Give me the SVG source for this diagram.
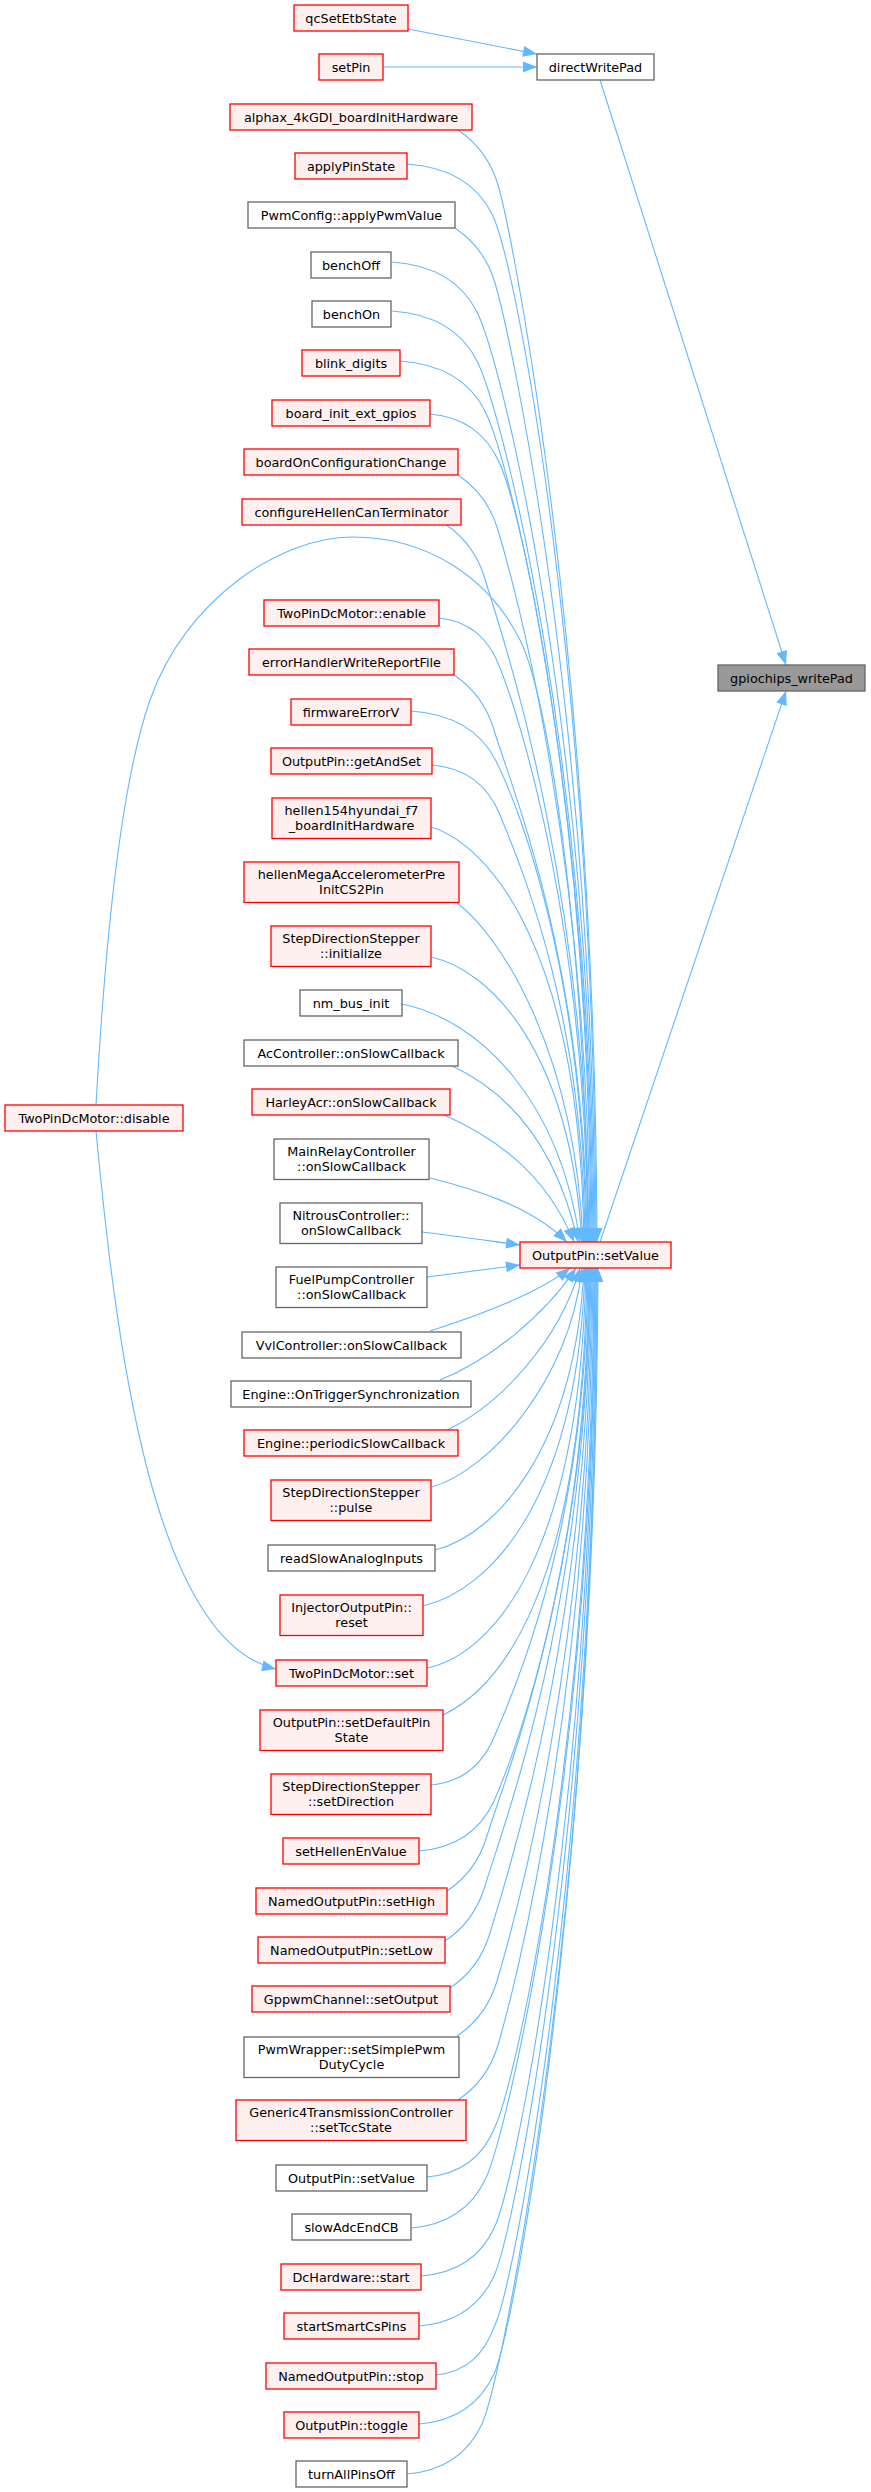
<svg xmlns="http://www.w3.org/2000/svg" width="871" height="2492" viewBox="0 0 871 2492">
<style>
.r{fill:#fff0f0;stroke:#ff0000;stroke-width:1.3}
.g{fill:#ffffff;stroke:#666666;stroke-width:1.3}
.root{fill:#999999;stroke:#666666;stroke-width:1.3}
text{font-family:"DejaVu Sans","Liberation Sans",sans-serif;font-size:12.8px;fill:#000;text-anchor:middle}
.e path{fill:none;stroke:#63b8ff;stroke-width:1.1;marker-end:url(#ah)}
</style>
<defs>
<marker id="ah" markerWidth="14" markerHeight="11" refX="14" refY="5.5" orient="auto" markerUnits="userSpaceOnUse" overflow="visible">
<path d="M0,0 L14,5.5 L0,11 Z" fill="#63b8ff"/>
</marker>
</defs>
<rect width="871" height="2492" fill="#ffffff"/>
<g id="edges" class="e">
<path d="M408,29 L537,54"/>
<path d="M383,67 L537,67"/>
<path d="M600,80 L786,665"/>
<path d="M600,1242 L786,691"/>
<path d="M96,1131 C115,1330 150,1640 276,1669"/>
<path d="M458,130 C476,142 490,158 498,185 C514,239 595,661 597,1242"/>
<path d="M407,164 C449,167 477,184 492,214 C517,264 594,677 596,1242"/>
<path d="M455,228 C473,240 487,256 495,283 C511,337 593,715 595,1242"/>
<path d="M392,262 C434,265 462,282 477,312 C502,362 592,730 594,1242"/>
<path d="M392,311 C434,314 462,331 477,361 C502,411 591,757 593,1242"/>
<path d="M400,361 C442,364 470,381 485,411 C510,461 590,785 592,1242"/>
<path d="M430,414 C465,417 487,434 500,464 C522,514 589,814 591,1242"/>
<path d="M458,475 C476,487 490,503 498,530 C514,584 588,850 590,1242"/>
<path d="M445,524 C463,536 477,552 485,579 C501,633 587,877 589,1242"/>
<path d="M96,1105 C102,1000 115,800 150,700 C185,600 280,537 352,537 C430,537 490,580 520,640 C550,700 586,950 588,1242"/>
<path d="M439,618 C470,621 489,638 500,668 C520,718 586,926 588,1242"/>
<path d="M454,675 C472,687 486,703 494,730 C510,784 585,960 587,1242"/>
<path d="M411,711 C453,714 481,731 496,761 C521,811 584,977 586,1242"/>
<path d="M432,765 C466,768 488,785 500,815 C520,865 583,1007 585,1242"/>
<path d="M431,827 C490,845 580,950 584,1242"/>
<path d="M457,903 C500,935 575,1050 583,1242"/>
<path d="M431,957 C490,970 570,1050 582,1242"/>
<path d="M402,1004 C480,1020 560,1100 580,1242"/>
<path d="M450,1065 C505,1090 555,1140 578,1242"/>
<path d="M442,1114 C490,1135 545,1170 574,1242"/>
<path d="M430,1178 C470,1188 530,1205 567,1242"/>
<path d="M422,1232 C455,1236 490,1241 520,1245"/>
<path d="M427,1277 C460,1273 490,1269 520,1265"/>
<path d="M430,1331 C480,1315 540,1292 570,1268"/>
<path d="M440,1380 C490,1360 545,1315 576,1268"/>
<path d="M447,1430 C500,1405 560,1340 580,1268"/>
<path d="M432,1487 C490,1470 570,1380 582,1268"/>
<path d="M435,1550 C495,1535 575,1450 584,1268"/>
<path d="M423,1606 C490,1590 578,1500 585,1268"/>
<path d="M427,1668 C490,1655 580,1560 586,1268"/>
<path d="M443,1715 C495,1690 583,1600 587,1268"/>
<path d="M431,1785 C463,1782 483,1765 495,1735 C517,1685 586,1525 588,1268"/>
<path d="M419,1851 C456,1848 480,1831 494,1801 C516,1751 587,1561 589,1268"/>
<path d="M447,1891 C465,1879 479,1863 487,1836 C503,1782 588,1580 590,1268"/>
<path d="M445,1941 C463,1929 477,1913 485,1886 C501,1832 588,1608 590,1268"/>
<path d="M450,1988 C468,1976 482,1960 490,1933 C506,1879 589,1634 591,1268"/>
<path d="M457,2036 C475,2024 489,2008 497,1981 C513,1927 590,1660 592,1268"/>
<path d="M458,2100 C476,2088 490,2072 498,2045 C514,1991 591,1695 593,1268"/>
<path d="M427,2177 C461,2174 483,2157 495,2127 C517,2077 592,1740 594,1268"/>
<path d="M411,2228 C448,2225 472,2208 486,2178 C508,2128 593,1768 595,1268"/>
<path d="M421,2276 C458,2273 482,2256 495,2226 C517,2176 593,1795 595,1268"/>
<path d="M419,2326 C456,2323 480,2306 494,2276 C516,2226 594,1822 596,1268"/>
<path d="M436,2375 C466,2372 484,2355 495,2325 C517,2275 595,1849 597,1268"/>
<path d="M419,2424 C456,2421 480,2404 494,2374 C516,2324 595,1876 597,1268"/>
<path d="M407,2474 C444,2471 468,2454 482,2424 C504,2374 596,1904 598,1268"/>
</g>
<g id="gpiochips_writePad"><rect class="root" x="718" y="665" width="147" height="26"/><text x="791.5" y="682.5">gpiochips_writePad</text></g>
<g id="directWritePad"><rect class="g" x="537" y="54" width="117" height="26"/><text x="595.5" y="71.5">directWritePad</text></g>
<g id="OutputPin_setValue_mid"><rect class="r" x="520" y="1242" width="151" height="26"/><text x="595.5" y="1259.5">OutputPin::setValue</text></g>
<g id="TwoPinDcMotor_disable"><rect class="r" x="5" y="1105" width="178" height="26"/><text x="94" y="1122.5">TwoPinDcMotor::disable</text></g>
<g id="qcSetEtbState"><rect class="r" x="294" y="5" width="114" height="26"/><text x="351" y="22.5">qcSetEtbState</text></g>
<g id="setPin"><rect class="r" x="319" y="54" width="64" height="26"/><text x="351" y="71.5">setPin</text></g>
<g id="alphax_4kGDI_boardInitHardware"><rect class="r" x="230" y="104" width="242" height="26"/><text x="351" y="121.5">alphax_4kGDI_boardInitHardware</text></g>
<g id="applyPinState"><rect class="r" x="295" y="153" width="112" height="26"/><text x="351" y="170.5">applyPinState</text></g>
<g id="PwmConfig_applyPwmValue"><rect class="g" x="248" y="202" width="207" height="26"/><text x="351.5" y="219.5">PwmConfig::applyPwmValue</text></g>
<g id="benchOff"><rect class="g" x="311" y="252" width="80" height="26"/><text x="351" y="269.5">benchOff</text></g>
<g id="benchOn"><rect class="g" x="312" y="301" width="79" height="26"/><text x="351.5" y="318.5">benchOn</text></g>
<g id="blink_digits"><rect class="r" x="302" y="350" width="98" height="26"/><text x="351" y="367.5">blink_digits</text></g>
<g id="board_init_ext_gpios"><rect class="r" x="272" y="400" width="158" height="26"/><text x="351" y="417.5">board_init_ext_gpios</text></g>
<g id="boardOnConfigurationChange"><rect class="r" x="244" y="449" width="214" height="26"/><text x="351" y="466.5">boardOnConfigurationChange</text></g>
<g id="configureHellenCanTerminator"><rect class="r" x="242" y="499" width="219" height="26"/><text x="351.5" y="516.5">configureHellenCanTerminator</text></g>
<g id="TwoPinDcMotor_enable"><rect class="r" x="264" y="600" width="175" height="26"/><text x="351.5" y="617.5">TwoPinDcMotor::enable</text></g>
<g id="errorHandlerWriteReportFile"><rect class="r" x="249" y="649" width="205" height="26"/><text x="351.5" y="666.5">errorHandlerWriteReportFile</text></g>
<g id="firmwareErrorV"><rect class="r" x="291" y="699" width="120" height="26"/><text x="351" y="716.5">firmwareErrorV</text></g>
<g id="OutputPin_getAndSet"><rect class="r" x="271" y="748" width="161" height="26"/><text x="351.5" y="765.5">OutputPin::getAndSet</text></g>
<g id="hellen154hyundai_f7_boardInitHardware"><rect class="r" x="272" y="798" width="159" height="40.5"/><text x="351.5" y="815">hellen154hyundai_f7</text><text x="351.5" y="830">_boardInitHardware</text></g>
<g id="hellenMegaAccelerometerPreInitCS2Pin"><rect class="r" x="244" y="862" width="215" height="40.5"/><text x="351.5" y="879">hellenMegaAccelerometerPre</text><text x="351.5" y="894">InitCS2Pin</text></g>
<g id="StepDirectionStepper_initialize"><rect class="r" x="271" y="926" width="160" height="40.5"/><text x="351" y="943">StepDirectionStepper</text><text x="351" y="958">::initialize</text></g>
<g id="nm_bus_init"><rect class="g" x="300" y="990" width="102" height="26"/><text x="351" y="1007.5">nm_bus_init</text></g>
<g id="AcController_onSlowCallback"><rect class="g" x="244" y="1040" width="214" height="26"/><text x="351" y="1057.5">AcController::onSlowCallback</text></g>
<g id="HarleyAcr_onSlowCallback"><rect class="r" x="252" y="1089" width="198" height="26"/><text x="351" y="1106.5">HarleyAcr::onSlowCallback</text></g>
<g id="MainRelayController_onSlowCallback"><rect class="g" x="274" y="1139" width="155" height="40.5"/><text x="351.5" y="1156">MainRelayController</text><text x="351.5" y="1171">::onSlowCallback</text></g>
<g id="NitrousController_onSlowCallback"><rect class="g" x="280" y="1203" width="142" height="40.5"/><text x="351" y="1220">NitrousController::</text><text x="351" y="1235">onSlowCallback</text></g>
<g id="FuelPumpController_onSlowCallback"><rect class="g" x="276" y="1267" width="151" height="40.5"/><text x="351.5" y="1284">FuelPumpController</text><text x="351.5" y="1299">::onSlowCallback</text></g>
<g id="VvlController_onSlowCallback"><rect class="g" x="242" y="1332" width="219" height="26"/><text x="351.5" y="1349.5">VvlController::onSlowCallback</text></g>
<g id="Engine_OnTriggerSynchronization"><rect class="g" x="231" y="1381" width="240" height="26"/><text x="351" y="1398.5">Engine::OnTriggerSynchronization</text></g>
<g id="Engine_periodicSlowCallback"><rect class="r" x="244" y="1430" width="214" height="26"/><text x="351" y="1447.5">Engine::periodicSlowCallback</text></g>
<g id="StepDirectionStepper_pulse"><rect class="r" x="271" y="1480" width="160" height="40.5"/><text x="351" y="1497">StepDirectionStepper</text><text x="351" y="1512">::pulse</text></g>
<g id="readSlowAnalogInputs"><rect class="g" x="268" y="1545" width="167" height="26"/><text x="351.5" y="1562.5">readSlowAnalogInputs</text></g>
<g id="InjectorOutputPin_reset"><rect class="r" x="280" y="1595" width="143" height="40.5"/><text x="351.5" y="1612">InjectorOutputPin::</text><text x="351.5" y="1627">reset</text></g>
<g id="TwoPinDcMotor_set"><rect class="r" x="276" y="1660" width="151" height="26"/><text x="351.5" y="1677.5">TwoPinDcMotor::set</text></g>
<g id="OutputPin_setDefaultPinState"><rect class="r" x="260" y="1710" width="183" height="40.5"/><text x="351.5" y="1727">OutputPin::setDefaultPin</text><text x="351.5" y="1742">State</text></g>
<g id="StepDirectionStepper_setDirection"><rect class="r" x="271" y="1774" width="160" height="40.5"/><text x="351" y="1791">StepDirectionStepper</text><text x="351" y="1806">::setDirection</text></g>
<g id="setHellenEnValue"><rect class="r" x="283" y="1838" width="136" height="26"/><text x="351" y="1855.5">setHellenEnValue</text></g>
<g id="NamedOutputPin_setHigh"><rect class="r" x="256" y="1888" width="191" height="26"/><text x="351.5" y="1905.5">NamedOutputPin::setHigh</text></g>
<g id="NamedOutputPin_setLow"><rect class="r" x="258" y="1937" width="187" height="26"/><text x="351.5" y="1954.5">NamedOutputPin::setLow</text></g>
<g id="GppwmChannel_setOutput"><rect class="r" x="252" y="1986" width="198" height="26"/><text x="351" y="2003.5">GppwmChannel::setOutput</text></g>
<g id="PwmWrapper_setSimplePwmDutyCycle"><rect class="g" x="244" y="2037" width="215" height="40.5"/><text x="351.5" y="2054">PwmWrapper::setSimplePwm</text><text x="351.5" y="2069">DutyCycle</text></g>
<g id="Generic4TransmissionController_setTccState"><rect class="r" x="236" y="2100" width="230" height="40.5"/><text x="351" y="2117">Generic4TransmissionController</text><text x="351" y="2132">::setTccState</text></g>
<g id="OutputPin_setValue_left"><rect class="g" x="276" y="2165" width="151" height="26"/><text x="351.5" y="2182.5">OutputPin::setValue</text></g>
<g id="slowAdcEndCB"><rect class="g" x="292" y="2214" width="119" height="26"/><text x="351.5" y="2231.5">slowAdcEndCB</text></g>
<g id="DcHardware_start"><rect class="r" x="281" y="2264" width="140" height="26"/><text x="351" y="2281.5">DcHardware::start</text></g>
<g id="startSmartCsPins"><rect class="r" x="284" y="2313" width="135" height="26"/><text x="351.5" y="2330.5">startSmartCsPins</text></g>
<g id="NamedOutputPin_stop"><rect class="r" x="266" y="2363" width="170" height="26"/><text x="351" y="2380.5">NamedOutputPin::stop</text></g>
<g id="OutputPin_toggle"><rect class="r" x="284" y="2412" width="135" height="26"/><text x="351.5" y="2429.5">OutputPin::toggle</text></g>
<g id="turnAllPinsOff"><rect class="g" x="296" y="2461" width="111" height="26"/><text x="351.5" y="2478.5">turnAllPinsOff</text></g>
</svg>
